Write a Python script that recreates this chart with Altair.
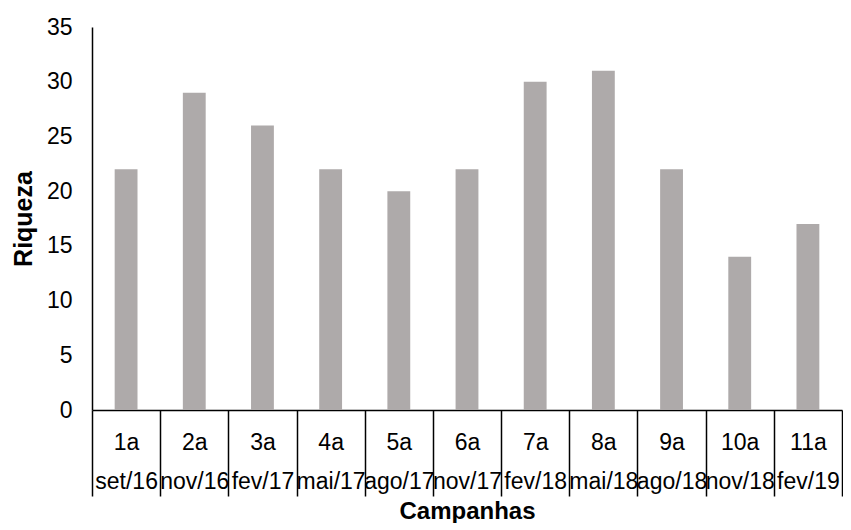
import altair as alt
import pandas as pd

campanhas = ["1a", "2a", "3a", "4a", "5a", "6a", "7a", "8a", "9a", "10a", "11a"]
datas = ["set/16", "nov/16", "fev/17", "mai/17", "ago/17", "nov/17",
         "fev/18", "mai/18", "ago/18", "nov/18", "fev/19"]
riqueza = [22, 29, 26, 22, 20, 22, 30, 31, 22, 14, 17]

df = pd.DataFrame({
    "cat": [f"{c}|{d}" for c, d in zip(campanhas, datas)],
    "riqueza": riqueza,
})

FONT = "Liberation Sans"

chart = alt.Chart(df).mark_bar(
    color="#AEAAAA", width=alt.RelativeBandSize(0.335)
).encode(
    x=alt.X(
        "cat:N",
        sort=list(df["cat"]),
        title="Campanhas",
        scale=alt.Scale(paddingInner=0, paddingOuter=0),
        axis=alt.Axis(
            labelExpr="split(datum.label, '|')",
            labelAngle=0,
            labelFont=FONT,
            labelFontSize=23,
            labelColor="black",
            labelLineHeight=39,
            labelBaseline="top",
            labelPadding=-65,
            ticks=True,
            tickBand="extent",
            tickSize=86,
            tickColor="black",
            tickWidth=1.5,
            domainColor="black",
            domainWidth=1.5,
            titleFont=FONT,
            titleFontSize=24,
            titleFontWeight="bold",
            titleColor="black",
            titleBaseline="alphabetic",
            titleY=108,
            labelOverlap=False,
        ),
    ),
    y=alt.Y(
        "riqueza:Q",
        title="Riqueza",
        scale=alt.Scale(domain=[0, 35], nice=False),
        axis=alt.Axis(
            values=[0, 5, 10, 15, 20, 25, 30, 35],
            ticks=False,
            grid=False,
            labelFont=FONT,
            labelFontSize=23,
            labelColor="black",
            labelPadding=20,
            domainColor="black",
            domainWidth=1.5,
            titleFont=FONT,
            titleFontSize=25,
            titleFontWeight="bold",
            titleColor="black",
            titlePadding=10,
        ),
    ),
).properties(
    width=750,
    height=383,
    padding={"left": 84, "top": 19, "right": 1, "bottom": 113},
    autosize=alt.AutoSizeParams(type="none"),
).configure_view(stroke=None)

chart.save("out.html", embed_options={"renderer": "svg", "actions": False})
